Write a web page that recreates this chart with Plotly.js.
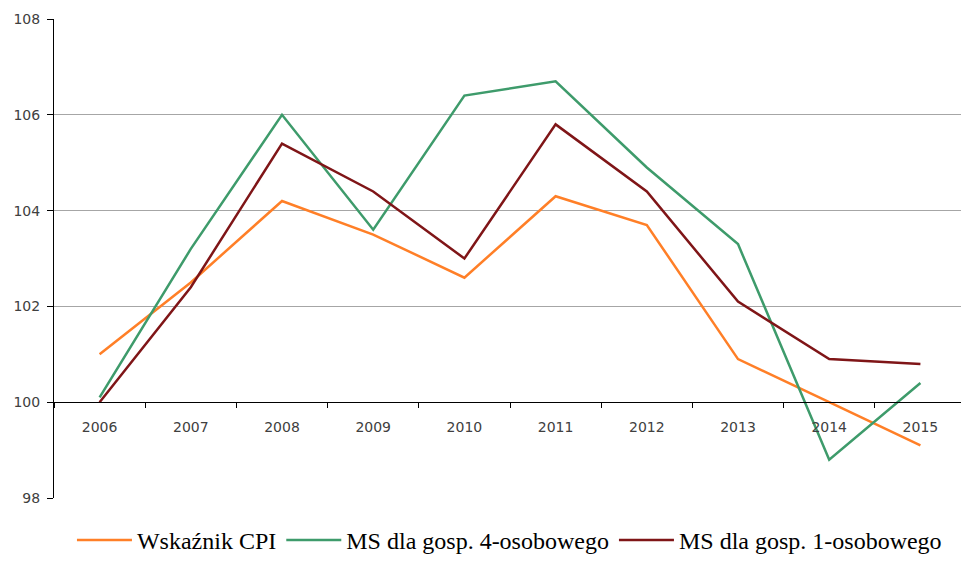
<!DOCTYPE html>
<html>
<head>
<meta charset="utf-8">
<script src="https://cdn.plot.ly/plotly-3.0.1.min.js"></script>
<style>html,body{margin:0;padding:0;background:#fff;}#chart{width:961px;height:563px;}</style>
</head>
<body>
<div id="chart"></div>
<script>
const years = ['2006','2007','2008','2009','2010','2011','2012','2013','2014','2015'];
const cpi = [101.0, 102.5, 104.2, 103.5, 102.6, 104.3, 103.7, 100.9, 100.0, 99.1];
const ms4 = [100.1, 103.2, 106.0, 103.6, 106.4, 106.7, 104.9, 103.3, 98.8, 100.4];
const ms1 = [100.0, 102.4, 105.4, 104.4, 103.0, 105.8, 104.4, 102.1, 100.9, 100.8];
const names = ['Wskaźnik CPI', 'MS dla gosp. 4-osobowego', 'MS dla gosp. 1-osobowego'];
const colors = ['#FF7F27', '#3E9B6B', '#7F1517'];

const series = [cpi, ms4, ms1];
const traces = series.map((s, i) => ({
  x: years, y: s, type: 'scatter', mode: 'lines', name: names[i],
  line: {color: colors[i], width: 2.5}, hoverinfo: 'skip'
}));

const layout = {
  width: 961, height: 563,
  margin: {l: 54, r: 0, t: 19, b: 65, autoexpand: false},
  paper_bgcolor: '#fff', plot_bgcolor: '#fff',
  font: {family: 'DejaVu Sans', size: 14, color: '#404040'},
  xaxis: {
    type: 'category', range: [-0.5, 9.445],
    anchor: 'free', position: 0.2,
    showline: true, linecolor: '#000', linewidth: 1,
    ticks: 'outside', tickson: 'boundaries', ticklen: 5, tickcolor: '#000',
    showgrid: false, zeroline: false, ticklabelstandoff: 12,
    tickfont: {family: 'DejaVu Sans', size: 14, color: '#404040'}
  },
  yaxis: {
    range: [98, 108], tickvals: [98, 100, 102, 104, 106, 108],
    showline: true, linecolor: '#000', linewidth: 1,
    ticks: 'outside', ticklen: 6, tickcolor: '#000',
    showgrid: true, gridcolor: '#A6A6A6', gridwidth: 1, zeroline: false,
    ticklabelstandoff: 4,
    tickfont: {family: 'DejaVu Sans', size: 14, color: '#404040'}
  },
  showlegend: true,
  legend: {
    orientation: 'h', x: 0.0198, xanchor: 'left', y: -0.1357, yanchor: 'bottom',
    font: {family: 'Liberation Serif', size: 24, color: '#000'},
    itemgap: 21, itemwidth: 55, bgcolor: 'rgba(0,0,0,0)'
  },
  hovermode: false
};

Plotly.newPlot('chart', traces, layout, {displayModeBar: false, staticPlot: true});
</script>
</body>
</html>
